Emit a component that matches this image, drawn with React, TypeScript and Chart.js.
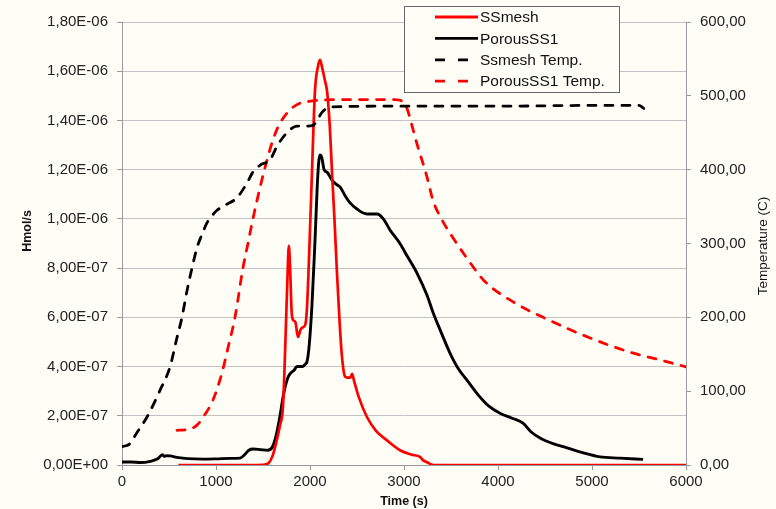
import React, { useEffect, useRef } from 'react';
import { Chart, registerables } from 'chart.js';

Chart.register(...registerables);

// ---------- data ----------
const xTicks = [0, 1000, 2000, 3000, 4000, 5000, 6000];
const leftTicks = [0, 2e-7, 4e-7, 6e-7, 8e-7, 1e-6, 1.2e-6, 1.4e-6, 1.6e-6, 1.8e-6];
const rightTicks = [0, 100, 200, 300, 400, 500, 600];

const seriesLabels = ['SSmesh', 'PorousSS1', 'Ssmesh Temp.', 'PorousSS1 Temp.'];

const ssmeshTime = [600, 1000, 1400, 1520, 1560, 1600, 1640, 1680, 1713, 1740, 1760, 1775, 1790, 1805, 1820, 1845, 1872, 1900, 1926, 1950, 1968, 1995, 2021, 2053, 2085, 2106, 2120, 2138, 2160, 2181, 2210, 2234, 2260, 2287, 2315, 2340, 2372, 2400, 2430, 2447, 2470, 2520, 2606, 2700, 2819, 2957, 3080, 3170, 3202, 3250, 3290, 3320, 4000, 5000, 6000];
const ssmeshRate = [0, 0, 0, 0.02e-7, 0.08e-7, 0.35e-7, 0.9e-7, 1.6e-7, 2.4e-7, 5.2e-7, 7.6e-7, 8.9e-7, 7.8e-7, 6.2e-7, 5.9e-7, 5.8e-7, 5.2e-7, 5.5e-7, 5.6e-7, 5.7e-7, 6.4e-7, 9.0e-7, 11.9e-7, 15.2e-7, 16.2e-7, 16.46e-7, 16.3e-7, 16.0e-7, 15.6e-7, 15.2e-7, 13.8e-7, 11.9e-7, 10.0e-7, 7.8e-7, 5.8e-7, 4.4e-7, 3.6e-7, 3.55e-7, 3.55e-7, 3.7e-7, 3.4e-7, 2.75e-7, 1.95e-7, 1.4e-7, 1.0e-7, 0.6e-7, 0.42e-7, 0.33e-7, 0.2e-7, 0.1e-7, 0.02e-7, 0, 0, 0, 0];

const porousTime = [0, 100, 200, 300, 380, 430, 450, 470, 510, 600, 700, 860, 1000, 1150, 1255, 1300, 1350, 1394, 1480, 1550, 1600, 1640, 1681, 1720, 1760, 1787, 1830, 1862, 1920, 1950, 1968, 1990, 2021, 2053, 2085, 2106, 2125, 2150, 2181, 2230, 2280, 2319, 2380, 2426, 2500, 2606, 2713, 2780, 2851, 2957, 3032, 3138, 3245, 3309, 3383, 3489, 3580, 3670, 3800, 3900, 4021, 4150, 4266, 4350, 4447, 4600, 4734, 4900, 5085, 5300, 5543];
const porousRate = [0.12e-7, 0.12e-7, 0.1e-7, 0.15e-7, 0.25e-7, 0.42e-7, 0.35e-7, 0.38e-7, 0.37e-7, 0.3e-7, 0.26e-7, 0.24e-7, 0.25e-7, 0.27e-7, 0.28e-7, 0.4e-7, 0.6e-7, 0.65e-7, 0.62e-7, 0.6e-7, 0.73e-7, 1.2e-7, 2.0e-7, 2.9e-7, 3.5e-7, 3.7e-7, 3.85e-7, 4.0e-7, 4.0e-7, 4.1e-7, 4.2e-7, 4.8e-7, 6.5e-7, 9.1e-7, 11.9e-7, 12.6e-7, 12.5e-7, 12.0e-7, 11.9e-7, 11.6e-7, 11.4e-7, 11.3e-7, 10.9e-7, 10.65e-7, 10.4e-7, 10.2e-7, 10.2e-7, 10.0e-7, 9.55e-7, 9.0e-7, 8.5e-7, 7.8e-7, 6.9e-7, 6.2e-7, 5.5e-7, 4.55e-7, 3.9e-7, 3.45e-7, 2.8e-7, 2.4e-7, 2.1e-7, 1.9e-7, 1.7e-7, 1.35e-7, 1.1e-7, 0.85e-7, 0.7e-7, 0.5e-7, 0.33e-7, 0.28e-7, 0.23e-7];

const ssmeshTempTime = [0, 40, 85, 150, 266, 400, 511, 580, 638, 690, 745, 800, 850, 904, 960, 1011, 1100, 1223, 1330, 1394, 1480, 1574, 1650, 1755, 1862, 1950, 2032, 2080, 2130, 2223, 3000, 4000, 5000, 5500, 5550];
const ssmeshTemp = [25, 26, 29, 42, 65, 100, 133, 170, 200, 235, 267, 295, 312, 328, 338, 345, 352, 362, 382, 397, 407, 413, 432, 450, 459, 459, 460, 468, 478, 485, 486, 486, 487, 487, 483];

const porousTempTime = [585, 700, 798, 880, 968, 1064, 1130, 1202, 1287, 1340, 1394, 1480, 1543, 1610, 1681, 1787, 1894, 1968, 2100, 2500, 2900, 2960, 3000, 3032, 3080, 3138, 3245, 3309, 3400, 3489, 3670, 3850, 4200, 4480, 4980, 5400, 5700, 6000];
const porousTemp = [47, 48, 54, 68, 88, 125, 160, 200, 267, 300, 334, 382, 413, 442, 463, 481, 490, 492, 494, 495, 495, 494, 490, 483, 462, 435, 390, 358, 333, 314, 280, 250, 218, 200, 172, 153, 143, 133];

// ---------- styles ----------
const FONT = "'Liberation Sans', Arial, sans-serif";
const BG = '#FEFEF6';
const RED = '#FF0000';
const BLACK = '#000000';
const AXIS = '#9A9A9A';
const GRID = '#C2C2C2';
const TEXT = '#222222';
const DASH = [8, 9];

const legendStyles = [
  { color: RED, dash: [] as number[] },
  { color: BLACK, dash: [] as number[] },
  { color: BLACK, dash: [10, 13] },
  { color: RED, dash: [10, 13] },
];

function sci(v: number): string {
  if (Math.abs(v) < 1e-15) return '0,00E+00';
  let e = Math.floor(Math.log10(Math.abs(v)));
  let m = v / Math.pow(10, e);
  if (m >= 9.995) { m /= 10; e += 1; }
  if (m < 0.9995) { m *= 10; e -= 1; }
  const sign = e < 0 ? '-' : '+';
  const ae = Math.abs(e);
  return m.toFixed(2).replace('.', ',') + 'E' + sign + (ae < 10 ? '0' + ae : String(ae));
}

function pts(xs: number[], ys: number[]) {
  return xs.map((x, i) => ({ x, y: ys[i] }));
}

const bgPlugin = {
  id: 'bgFill',
  beforeDraw(chart: any) {
    const c = chart.ctx;
    c.save();
    c.fillStyle = BG;
    c.fillRect(0, 0, chart.width, chart.height);
    c.restore();
  },
};

const overlayPlugin = {
  id: 'overlay',
  afterDraw(chart: any) {
    const c = chart.ctx;
    c.save();
    c.fillStyle = '#111';
    c.textAlign = 'center';
    c.textBaseline = 'middle';
    c.save();
    c.translate(28, 231);
    c.rotate(-Math.PI / 2);
    c.font = `bold 12.5px ${FONT}`;
    c.fillText('Hmol/s', 0, 0);
    c.restore();
    c.save();
    c.translate(763, 246);
    c.rotate(-Math.PI / 2);
    c.font = `13.5px ${FONT}`;
    c.fillText('Temperature (C)', 0, 0);
    c.restore();

    const bx = 404.5, by = 6.5, bw = 215, bh = 86;
    c.fillStyle = BG;
    c.fillRect(bx, by, bw, bh);
    c.strokeStyle = '#666';
    c.lineWidth = 1;
    c.strokeRect(bx, by, bw, bh);
    c.font = `15.5px ${FONT}`;
    c.textAlign = 'left';
    c.textBaseline = 'middle';
    seriesLabels.forEach((label, i) => {
      const y = 17 + i * 21.4;
      const st = legendStyles[i];
      c.beginPath();
      c.setLineDash(st.dash);
      c.strokeStyle = st.color;
      c.lineWidth = 2.8;
      c.moveTo(435, y);
      c.lineTo(478, y);
      c.stroke();
      c.setLineDash([]);
      c.fillStyle = '#111';
      c.fillText(label, 480, y + 1);
    });
    c.restore();
  },
};

export default function App() {
  const ref = useRef<HTMLCanvasElement | null>(null);

  useEffect(() => {
    if (!ref.current) return;
    const tickFont = { family: FONT, size: 15 };
    const chart = new Chart(ref.current, {
      type: 'line',
      data: {
        datasets: [
          {
            label: seriesLabels[2],
            data: pts(ssmeshTempTime, ssmeshTemp),
            yAxisID: 'y1',
            borderColor: BLACK,
            borderWidth: 2.8,
            borderDash: DASH,
            borderCapStyle: 'round',
            pointRadius: 0,
            cubicInterpolationMode: 'monotone',
            order: 0,
          },
          {
            label: seriesLabels[3],
            data: pts(porousTempTime, porousTemp),
            yAxisID: 'y1',
            borderColor: RED,
            borderWidth: 2.8,
            borderDash: DASH,
            borderCapStyle: 'round',
            pointRadius: 0,
            cubicInterpolationMode: 'monotone',
            order: 0,
          },
          {
            label: seriesLabels[0],
            data: pts(ssmeshTime, ssmeshRate),
            yAxisID: 'y',
            borderColor: RED,
            borderWidth: 2.7,
            pointRadius: 0,
            cubicInterpolationMode: 'monotone',
            order: 1,
          },
          {
            label: seriesLabels[1],
            data: pts(porousTime, porousRate),
            yAxisID: 'y',
            borderColor: BLACK,
            borderWidth: 2.9,
            pointRadius: 0,
            cubicInterpolationMode: 'monotone',
            order: 2,
          },
        ],
      },
      options: {
        responsive: false,
        animation: false,
        devicePixelRatio: 1,
        layout: { padding: { top: 22, left: 0, right: 0, bottom: 0 } },
        plugins: {
          legend: { display: false },
          tooltip: { enabled: false },
        },
        scales: {
          x: {
            type: 'linear',
            min: 0,
            max: 6000,
            afterBuildTicks: (s: any) => { s.ticks = xTicks.map((v) => ({ value: v })); },
            grid: { drawOnChartArea: false, drawTicks: true, tickLength: 5, color: AXIS },
            border: { color: AXIS, width: 1 },
            ticks: {
              font: tickFont,
              color: TEXT,
              padding: 3,
              maxRotation: 0,
              autoSkip: false,
              callback: (v: any) => String(v),
            },
            title: {
              display: true,
              text: 'Time (s)',
              font: { family: FONT, size: 12.5, weight: 'bold' },
              color: '#111',
              padding: { top: 0, bottom: 0 },
            },
            afterFit: (s: any) => { s.height = 44; },
          },
          y: {
            type: 'linear',
            position: 'left',
            min: 0,
            max: 1.8e-6,
            afterBuildTicks: (s: any) => { s.ticks = leftTicks.map((v) => ({ value: v })); },
            grid: { color: GRID, tickColor: AXIS, tickLength: 5, lineWidth: 1 },
            border: { color: AXIS, width: 1 },
            ticks: {
              font: tickFont,
              color: TEXT,
              padding: 9,
              autoSkip: false,
              callback: (v: any) => sci(Number(v)),
            },
            afterFit: (s: any) => { s.width = 122; },
          },
          y1: {
            type: 'linear',
            position: 'right',
            min: 0,
            max: 600,
            afterBuildTicks: (s: any) => { s.ticks = rightTicks.map((v) => ({ value: v })); },
            grid: { drawOnChartArea: false, tickLength: 5, color: AXIS },
            border: { color: AXIS, width: 1 },
            ticks: {
              font: tickFont,
              color: TEXT,
              padding: 9,
              autoSkip: false,
              callback: (v: any) => Number(v).toFixed(2).replace('.', ','),
            },
            afterFit: (s: any) => { s.width = 90; },
          },
        },
      } as any,
      plugins: [bgPlugin, overlayPlugin],
    });
    return () => chart.destroy();
  }, []);

  return (
    <div style={{ position: 'absolute', left: 0, top: 0, width: 776, height: 509, background: BG }}>
      <canvas ref={ref} width={776} height={509} style={{ width: 776, height: 509, display: 'block' }} />
    </div>
  );
}
